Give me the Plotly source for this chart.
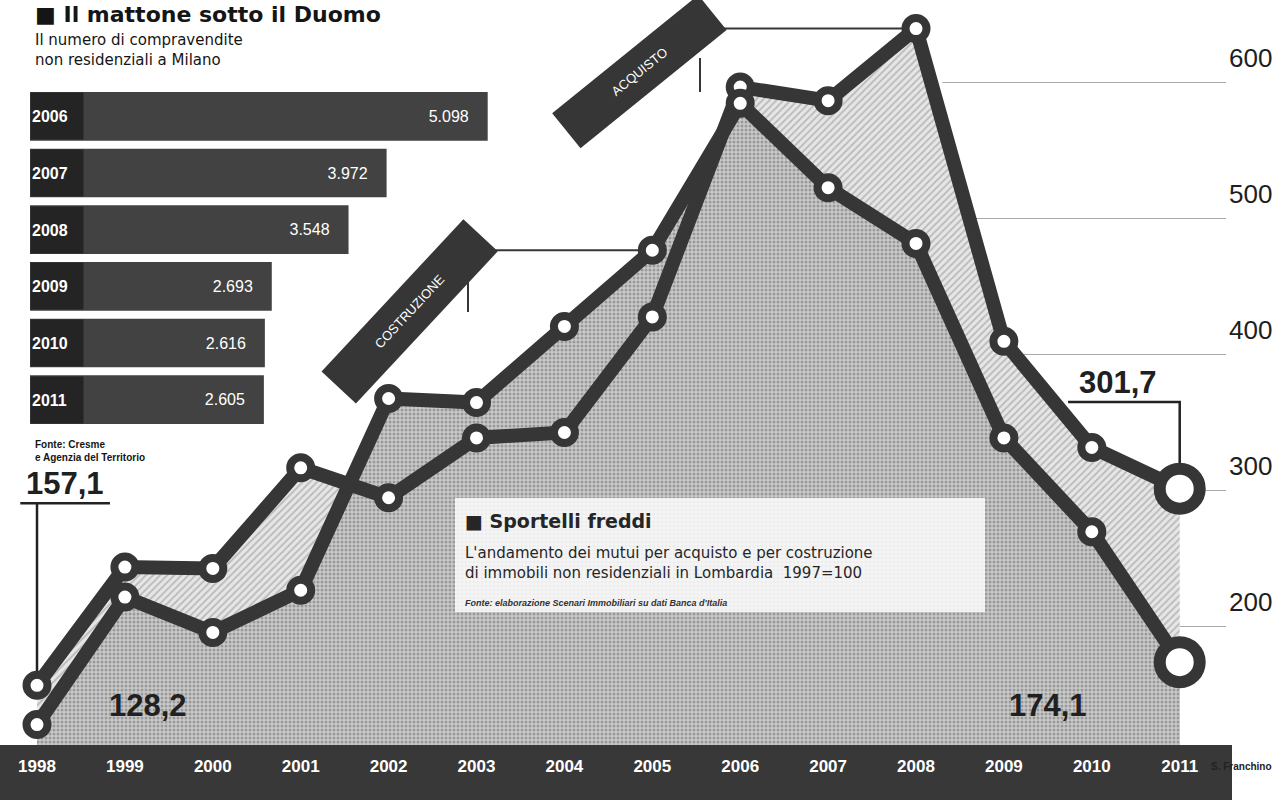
import plotly.graph_objects as go

# ---------------- data ----------------
years = list(range(1998, 2012))
acquisto = [157.1, 244, 243, 317, 295, 339, 343, 428, 597, 587, 640, 410, 332, 301.7]
costruzione = [128.2, 222, 196, 227, 368, 365, 421, 477, 585, 523, 482, 339, 270, 174.1]

bar_years = [2006, 2007, 2008, 2009, 2010, 2011]
compravendite = [5098, 3972, 3548, 2693, 2616, 2605]

y_ticks = [200, 300, 400, 500, 600]

# ---------------- geometry helpers ----------------
W, H = 1282, 809
ML, MR, MT, MB = 0, 56, 0, 64
PW, PH = W - ML - MR, H - MT - MB
Y_RANGE = [113.2, 661]


def pxx(px):
    return (px - ML) / PW


def pxy(py):
    return 1 - (py - MT) / PH


DARK = "#363636"
TEXT = "#1e1e1e"
FONT = "Liberation Sans, Arial, sans-serif"
WIDE = "DejaVu Sans, Liberation Sans, sans-serif"
NARROW = "Liberation Sans Narrow, Liberation Sans, Arial, sans-serif"


def it(v):
    return f"{v:.1f}".replace(".", ",")


def thousands(v):
    return f"{v:,}".replace(",", ".")


fig = go.Figure()

# hatched areas under the two series
fig.add_trace(go.Scatter(
    x=years, y=acquisto, mode="none", fill="tozeroy", hoverinfo="skip",
    fillpattern=dict(shape="/", fgcolor="#8e8e8e", bgcolor="#e6e6e6", size=5, solidity=0.35),
    showlegend=False))
fig.add_trace(go.Scatter(
    x=years, y=costruzione, mode="none", fill="tozeroy", hoverinfo="skip",
    fillpattern=dict(shape=".", fgcolor="#6a6a6a", bgcolor="#c9c9c9", size=4, solidity=0.45),
    showlegend=False))

# lines with ring markers
n = len(years)
sizes = [21] * (n - 1) + [40]
widths = [8] * (n - 1) + [12]
for name, vals in (("Acquisto", acquisto), ("Costruzione", costruzione)):
    fig.add_trace(go.Scatter(
        x=years, y=vals, name=name, mode="lines+markers",
        line=dict(color=DARK, width=14),
        marker=dict(size=sizes, color="white", opacity=1,
                    line=dict(color=DARK, width=widths)),
        cliponaxis=False, showlegend=False))

# inset horizontal bar chart
fig.add_trace(go.Bar(
    x=compravendite, y=bar_years, orientation="h", xaxis="x2", yaxis="y2",
    marker=dict(color="#424242", line=dict(width=0)), width=0.86,
    text=[thousands(v) + "\u2002\u2002" for v in compravendite],
    textposition="inside", insidetextanchor="end",
    textfont=dict(color="white", size=16, family=FONT),
    showlegend=False, hoverinfo="skip"))

shapes = []
# white cover hiding gridlines on the left part of the chart (below the traces)
shapes.append(dict(type="rect", xref="x", yref="y", x0=1997.0, x1=2008.3, y0=Y_RANGE[0] - 50,
                   y1=Y_RANGE[1] + 50, fillcolor="white", line=dict(width=0), layer="between"))
# dark bottom band carrying the years
shapes.append(dict(type="rect", xref="paper", yref="paper", x0=0, x1=pxx(1232),
                   y0=pxy(800), y1=pxy(745), fillcolor="#383838", line=dict(width=0), layer="below"))
# legend box
shapes.append(dict(type="rect", xref="paper", yref="paper", x0=pxx(455), x1=pxx(985),
                   y0=pxy(612), y1=pxy(498), fillcolor="rgba(255,255,255,0.82)",
                   line=dict(width=0), layer="above"))

# tag connectors (from tag tip to the referenced point)
shapes.append(dict(type="line", xref="x", yref="y", x0=2005.72, x1=years[10],
                   y0=acquisto[10], y1=acquisto[10], line=dict(color=DARK, width=2), layer="between"))
shapes.append(dict(type="line", xref="x", yref="y", x0=2003.06, x1=years[7],
                   y0=costruzione[7], y1=costruzione[7], line=dict(color=DARK, width=2), layer="between"))
# small hanging strokes below the tags
shapes.append(dict(type="line", xref="paper", yref="paper", x0=pxx(700), x1=pxx(700),
                   y0=pxy(92), y1=pxy(58), line=dict(color=DARK, width=2)))
shapes.append(dict(type="line", xref="paper", yref="paper", x0=pxx(468), x1=pxx(468),
                   y0=pxy(312), y1=pxy(266), line=dict(color=DARK, width=2)))

# value callout connectors
lab157_y = 291
shapes.append(dict(type="path", xref="x", yref="y",
                   path=f"M {years[0]-0.19},{lab157_y} L {years[0]+0.83},{lab157_y} "
                        f"M {years[0]},{lab157_y} L {years[0]},{acquisto[0]}",
                   line=dict(color="#222", width=2.5), layer="between"))
shapes.append(dict(type="path", xref="x", yref="y",
                   path=f"M {years[0]},{costruzione[0]} L {years[0]+1.8},{costruzione[0]}",
                   line=dict(color="#222", width=2.5), layer="between"))
lab301_y = 365.4
shapes.append(dict(type="path", xref="x", yref="y",
                   path=f"M {years[-1]-1.27},{lab301_y} L {years[-1]},{lab301_y} L {years[-1]},{acquisto[-1]}",
                   line=dict(color="#222", width=2.5), layer="between"))
lab174_y = 128
shapes.append(dict(type="path", xref="x", yref="y",
                   path=f"M {years[-1]-2.05},{lab174_y} L {years[-1]-0.91},{lab174_y} L {years[-1]},{costruzione[-1]}",
                   line=dict(color="#222", width=2.5), layer="between"))

ann = []
big = dict(family=NARROW, size=31, color="#202020")
ann.append(dict(xref="x", yref="y", x=years[0] + 0.32, y=lab157_y, yanchor="bottom", text=f"<b>{it(acquisto[0])}</b>",
                showarrow=False, font=big))
ann.append(dict(xref="x", yref="y", x=years[0] + 1.26, y=costruzione[0], yanchor="bottom", text=f"<b>{it(costruzione[0])}</b>",
                showarrow=False, font=big))
ann.append(dict(xref="x", yref="y", x=years[-1] - 0.7, y=lab301_y, yanchor="bottom", text=f"<b>{it(acquisto[-1])}</b>",
                showarrow=False, font=big))
ann.append(dict(xref="x", yref="y", x=years[-1] - 1.5, y=lab174_y, yanchor="bottom", text=f"<b>{it(costruzione[-1])}</b>",
                showarrow=False, font=big))

# tags
ann.append(dict(xref="paper", yref="paper", x=pxx(639), y=pxy(72), xanchor="center", yanchor="middle",
                text="ACQUISTO", textangle=-39, showarrow=False, bgcolor=DARK, width=185, height=42,
                font=dict(family=FONT, size=13, color="white")))
ann.append(dict(xref="paper", yref="paper", x=pxx(410), y=pxy(311), xanchor="center", yanchor="middle",
                text="COSTRUZIONE", textangle=-47, showarrow=False, bgcolor=DARK, width=205, height=44,
                font=dict(family=FONT, size=13, color="white")))

# titles
ann.append(dict(xref="paper", yref="paper", x=pxx(33), y=1, xanchor="left", yanchor="top",
                text="<b>\u25a0 Il mattone sotto il Duomo</b>", showarrow=False,
                font=dict(family=WIDE, size=22, color="#151515")))
ann.append(dict(xref="paper", yref="paper", x=pxx(33), y=pxy(29), xanchor="left", yanchor="top", align="left",
                text="Il numero di compravendite<br>non residenziali a Milano", showarrow=False,
                font=dict(family=WIDE, size=15, color="#151515")))
ann.append(dict(xref="paper", yref="paper", x=pxx(33), y=pxy(437), xanchor="left", yanchor="top", align="left",
                text="<b>Fonte: Cresme<br>e Agenzia del Territorio</b>", showarrow=False,
                font=dict(family=NARROW, size=10, color="#151515")))

# inset year boxes
for yr in bar_years:
    ann.append(dict(xref="x2 domain", yref="y2", x=0, y=yr, xanchor="left", yanchor="middle",
                    text=f"<b>{yr}</b>", showarrow=False, bgcolor="#242424", width=50, height=44,
                    align="left", font=dict(family=FONT, size=16, color="white")))

# legend box texts
ann.append(dict(xref="paper", yref="paper", x=pxx(463), y=pxy(521), xanchor="left", yanchor="middle",
                text="<b>\u25a0 Sportelli freddi</b>", showarrow=False,
                font=dict(family=WIDE, size=19, color="#262626")))
ann.append(dict(xref="paper", yref="paper", x=pxx(463), y=pxy(542), xanchor="left", yanchor="top", align="left",
                text="L'andamento dei mutui per acquisto e per costruzione<br>di immobili non residenziali in Lombardia  1997=100",
                showarrow=False, font=dict(family=WIDE, size=15, color="#262626")))
ann.append(dict(xref="paper", yref="paper", x=pxx(463), y=pxy(603), xanchor="left", yanchor="middle",
                text="<b><i>Fonte: elaborazione Scenari Immobiliari su dati Banca d'Italia</i></b>",
                showarrow=False, font=dict(family=NARROW, size=9, color="#333")))

ann.append(dict(xref="paper", yref="paper", x=pxx(1274), y=pxy(766), xanchor="right", yanchor="middle",
                text="<b>S. Franchino</b>", showarrow=False,
                font=dict(family=NARROW, size=10, color="#222")))

fig.update_layout(
    width=W, height=H, margin=dict(l=ML, r=MR, t=MT, b=MB, pad=0),
    paper_bgcolor="white", plot_bgcolor="rgba(0,0,0,0)",
    shapes=shapes, annotations=ann,
    xaxis=dict(range=[1997.579, 1997.579 + PW / 87.9], tickvals=years,
               ticktext=[f"<b>{y}</b>" for y in years],
               tickfont=dict(family=NARROW, size=17, color="white"), showgrid=False, zeroline=False,
               showline=False, ticks="", ticklabelstandoff=9, fixedrange=True),
    yaxis=dict(range=Y_RANGE, side="right", tickvals=y_ticks, ticklabelposition="outside",
               ticklabelstandoff=2, ticklabelshift=-25, tickfont=dict(family=FONT, size=26, color=TEXT),
               showgrid=True, gridcolor="#a8a8a8", gridwidth=1.3, zeroline=False, showline=False,
               ticks="", fixedrange=True),
    xaxis2=dict(domain=[pxx(30), pxx(500)], range=[0, 5235], anchor="y2", visible=False),
    yaxis2=dict(domain=[pxy(428), pxy(88)], anchor="x2", range=[2011.5, 2005.5], visible=False),
    hovermode=False,
)

fig.write_html("out.html", config={"displayModeBar": False},
               post_script="document.body.style.margin='0px';document.body.style.padding='0px';")
